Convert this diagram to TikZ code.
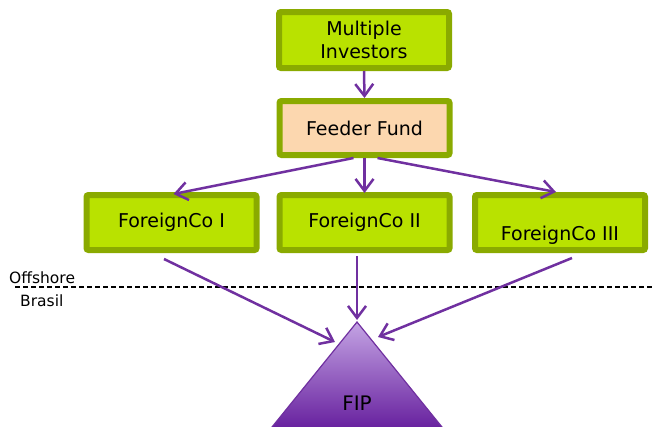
\documentclass[tikz,border=0pt]{standalone}
\usepackage{fontspec}
\setmainfont{DejaVu Sans}
\usetikzlibrary{arrows.meta,calc}
\definecolor{boxfill}{RGB}{185,226,0}
\definecolor{boxedge}{RGB}{138,170,0}
\definecolor{peach}{RGB}{252,215,175}
\definecolor{arrowpurple}{RGB}{112,48,160}
\definecolor{fiptop}{RGB}{196,164,228}
\definecolor{fipbot}{RGB}{100,28,156}
\begin{document}
\begin{tikzpicture}[x=1pt,y=-1pt,
  gbox/.style={draw=boxedge,line width=6pt,fill=boxfill,rounded corners=2pt,
    minimum width=170pt,minimum height=55pt,inner sep=0pt,align=center,
    font=\fontsize{19}{23}\selectfont},
  ffbox/.style={gbox,fill=peach},
  conn/.style={draw=arrowpurple,line width=2.5pt,
    -{Straight Barb[length=12pt,width=18pt]}},
  lbl/.style={font=\fontsize{15.5}{18}\selectfont,inner sep=0pt},
  dashline/.style={draw=black,line width=1.3pt,dash pattern=on 5pt off 3pt}]
\useasboundingbox (0,0) rectangle (653,426);
\clip (0,0) rectangle (653,426);
% FIP triangle
\coordinate (apex) at (357,322);
\shade[top color=fiptop,bottom color=fipbot,draw=arrowpurple,line width=1.2pt]
  (apex) -- (268,432) -- (446,432) -- cycle;
\node[font=\fontsize{20}{24}\selectfont,inner sep=0pt] (fip) at (357,403) {FIP};
% boxes
\node[gbox,minimum height=56pt] (mi) at (364,40) {Multiple\\Investors};
\node[ffbox,minimum height=54pt] (ff) at (364.5,128) {Feeder Fund};
\node[gbox] (fc1) at (171.5,222.5) {ForeignCo I};
\node[gbox] (fc2) at (364.5,222.5) {ForeignCo II};
\node[gbox] (fc3) at (560,222.5) {};
\node[font=\fontsize{19}{23}\selectfont,inner sep=0pt] (fc3t) at ($(fc3.center)+(0,13)$) {ForeignCo III};
% dashed border line
\draw[dashline] (15,287) -- (653,287);
\node[lbl,anchor=base west] (off) at (9,283) {Offshore};
\node[lbl,anchor=base west] (bra) at (20,306) {Brasil};
% connectors
\draw[conn] (mi.south) -- (ff.north);
\draw[conn] ($(ff.south)+(-11,0)$) -- ($(fc1.north)+(2,2)$);
\draw[conn] (ff.south) -- ($(fc2.north)+(0,1)$);
\draw[conn] ($(ff.south)+(13,0)$) -- ($(fc3.north)+(-4,0)$);
\draw[conn] ($(fc1.south)+(-7.5,6)$) -- ($(apex)+(-22,20)$);
\draw[conn] ($(fc2.south)+(-7.5,3)$) -- ($(apex)+(0,-2)$);
\draw[conn] ($(fc3.south)+(12,5)$) -- ($(apex)+(21,15)$);
\end{tikzpicture}
\end{document}
